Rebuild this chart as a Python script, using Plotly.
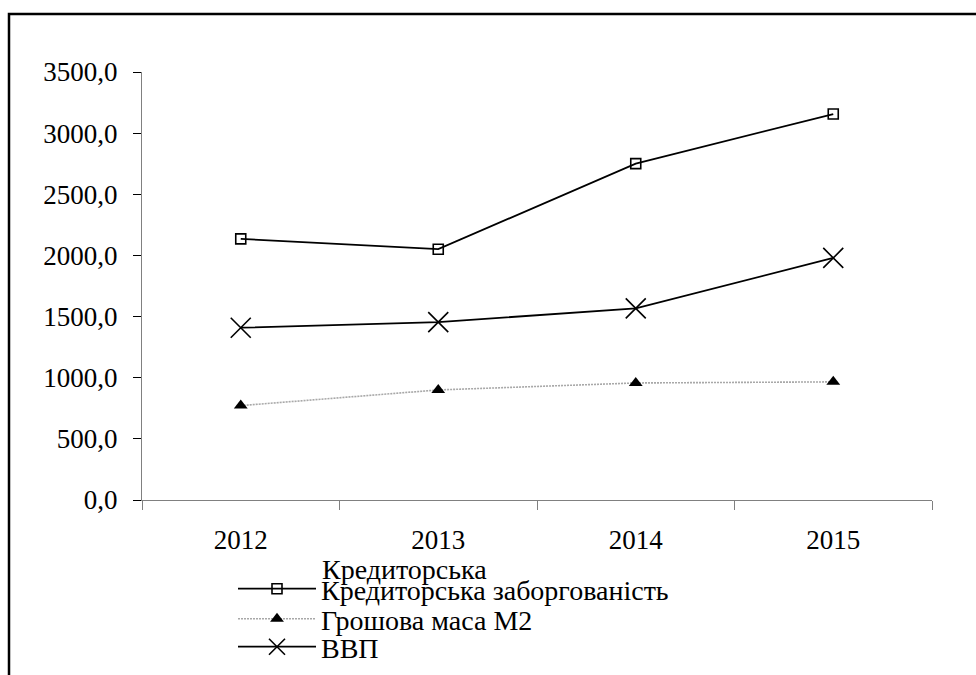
import plotly.graph_objects as go

# Data (billion UAH)
years = ["2012", "2013", "2014", "2015"]
payables = [2135, 2051, 2751, 3156]      # Кредиторська заборгованість
money_m2 = [772, 900, 957, 966]          # Грошова маса М2
gdp = [1408.9, 1454.9, 1566.7, 1979.5]   # ВВП

name_payables = "Кредиторська заборгованість"
name_m2 = "Грошова маса М2"
name_gdp = "ВВП"

FONT = "Liberation Serif"

fig = go.Figure()

fig.add_trace(go.Scatter(
    x=years, y=payables, name=name_payables, mode="lines+markers",
    line=dict(color="black", width=1.8),
    marker=dict(symbol="square-open", size=10, color="black", line=dict(width=1.6)),
    legend="legend",
))
fig.add_trace(go.Scatter(
    x=years, y=money_m2, name=name_m2, mode="lines+markers",
    line=dict(color="#a8a8a8", width=1.6, dash="2px,1px"),
    marker=dict(symbol="triangle-up", size=12, color="black"),
    legend="legend2",
))
fig.add_trace(go.Scatter(
    x=years, y=gdp, name=name_gdp, mode="lines+markers",
    line=dict(color="black", width=1.8),
    marker=dict(symbol="x-thin-open", size=20, color="black", line=dict(width=1.6, color="black")),
    legend="legend3",
))

# plot area: 142..932 px horizontally, 72..500 px vertically
W, H = 976, 675
ML, MR, MT, MB = 142, 44, 72, 175
PW, PH = W - ML - MR, H - MT - MB


def px(x):
    return (x - ML) / PW


def py(y):
    return (H - MB - y) / PH


legend_common = dict(
    font=dict(family=FONT, size=28, color="black"),
    bgcolor="rgba(0,0,0,0)", borderwidth=0,
    itemwidth=78, xanchor="left", yanchor="middle",
    itemclick=False, itemdoubleclick=False,
)

fig.update_layout(
    width=W, height=H,
    margin=dict(l=ML, r=MR, t=MT, b=MB, autoexpand=False),
    paper_bgcolor="white", plot_bgcolor="white",
    separators=",.",
    font=dict(family=FONT, size=27, color="black"),
    showlegend=True,
    legend=dict(x=px(233), y=py(589), **legend_common),
    legend2=dict(x=px(233), y=py(619), **legend_common),
    legend3=dict(x=px(233), y=py(647), **legend_common),
    xaxis=dict(
        type="category", range=[-0.5, 3.5],
        showline=True, linecolor="#808080", linewidth=1.2,
        ticks="outside", tickson="boundaries", ticklen=9,
        tickcolor="#808080", tickwidth=1.2,
        showgrid=False, zeroline=False,
        ticklabelstandoff=15,
        tickfont=dict(family=FONT, size=27, color="black"),
    ),
    yaxis=dict(
        range=[0, 3500], dtick=500, tickformat=".1f",
        showline=True, linecolor="#808080", linewidth=1.2,
        ticks="outside", ticklen=8, tickcolor="black", tickwidth=1.2,
        showgrid=False, zeroline=False,
        ticklabelstandoff=10,
        tickfont=dict(family=FONT, size=27, color="black"),
    ),
    shapes=[
        # outer frame (left and top edges visible)
        dict(type="rect", xref="paper", yref="paper",
             x0=px(9), x1=px(1100), y0=py(900), y1=py(14),
             line=dict(color="black", width=2.5), fillcolor="rgba(0,0,0,0)", layer="below"),
    ],
    annotations=[
        # wrapped first line of the first legend entry
        dict(text="Кредиторська", xref="paper", yref="paper",
             x=px(320), y=py(569), xanchor="left", yanchor="middle",
             showarrow=False, font=dict(family=FONT, size=28, color="black")),
    ],
)

fig.write_html("out.html")
